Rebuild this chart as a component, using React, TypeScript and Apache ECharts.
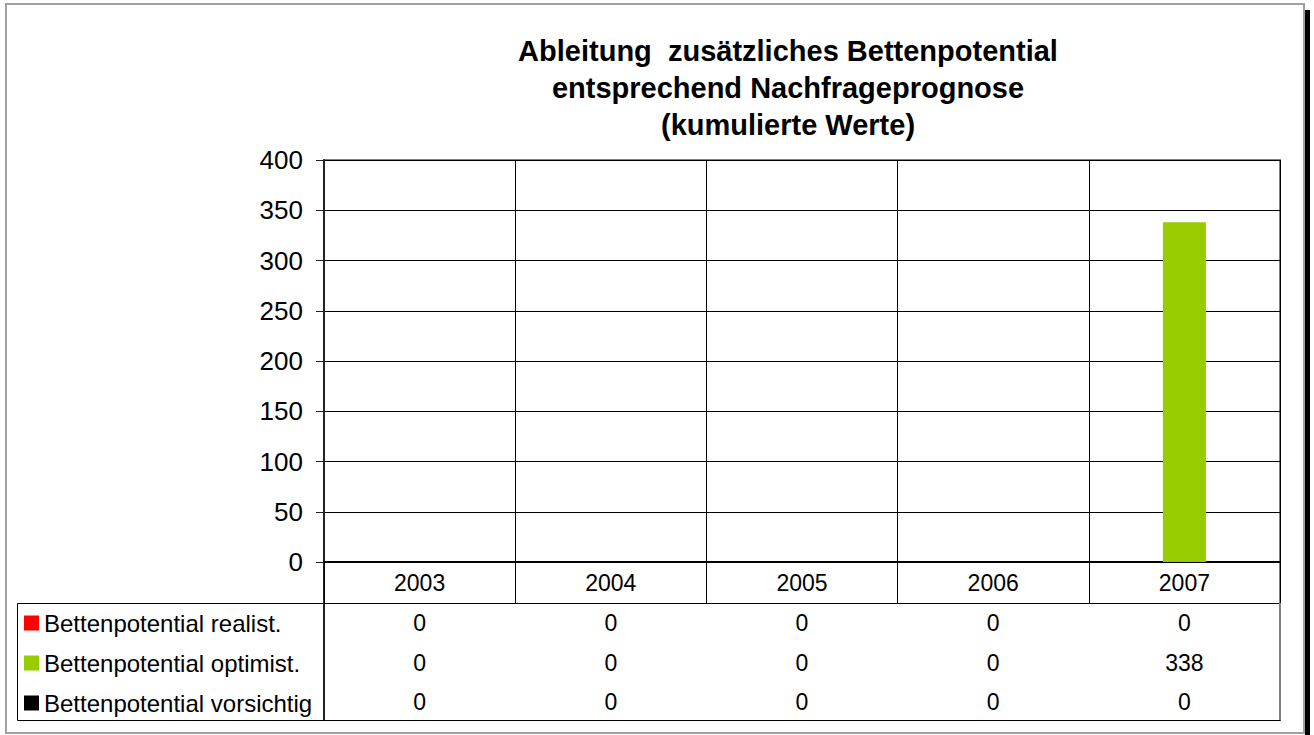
import React, { useEffect, useRef } from "react";
import * as echarts from "echarts";

const categories = ["2003", "2004", "2005", "2006", "2007"];
const seriesNames = [
  "Bettenpotential realist.",
  "Bettenpotential optimist.",
  "Bettenpotential vorsichtig",
];
const realistValues = [0, 0, 0, 0, 0];
const optimistValues = [0, 0, 0, 0, 338];
const vorsichtigValues = [0, 0, 0, 0, 0];
const seriesColors = ["#ff0000", "#99cc00", "#000000"];
const titleLines = [
  "Ableitung  zusätzliches Bettenpotential",
  "entsprechend Nachfrageprognose",
  "(kumulierte Werte)",
];
const yMin = 0;
const yMax = 400;
const yInterval = 50;

const FONT = "'Liberation Sans', Arial, sans-serif";

export default function App() {
  const ref = useRef<HTMLDivElement>(null);

  useEffect(() => {
    if (!ref.current) return;
    const chart = echarts.init(ref.current, null, { renderer: "svg" });
    const allValues = [realistValues, optimistValues, vorsichtigValues];

    const gridLeft = 324;
    const gridTop = 160;
    const gridWidth = 956;
    const gridHeight = 402;

    chart.setOption({
      animation: false,
      backgroundColor: "#ffffff",
      textStyle: { fontFamily: FONT },
      title: {
        text: titleLines.join("\n"),
        left: 788,
        top: 32,
        padding: 0,
        textAlign: "center",
        textStyle: {
          fontFamily: FONT,
          fontSize: 29,
          fontWeight: "bold",
          lineHeight: 37,
          color: "#000",
        },
      },
      legend: {
        orient: "vertical",
        left: 24,
        top: 611,
        padding: 0,
        itemWidth: 15,
        itemHeight: 15,
        itemGap: 16,
        icon: "rect",
        selectedMode: false,
        data: seriesNames,
        textStyle: { fontFamily: FONT, fontSize: 24, color: "#000" },
      },
      grid: {
        left: gridLeft,
        top: gridTop,
        width: gridWidth,
        height: gridHeight,
        show: true,
        borderColor: "#808080",
        borderWidth: 2,
        backgroundColor: "transparent",
      },
      xAxis: {
        type: "category",
        data: categories,
        boundaryGap: true,
        axisLine: { show: true, lineStyle: { color: "#000", width: 2 } },
        axisTick: {
          show: true,
          interval: 0,
          length: 41,
          alignWithLabel: false,
          lineStyle: { color: "#000", width: 1 },
        },
        axisLabel: {
          interval: 0,
          margin: 9,
          fontSize: 23,
          color: "#000",
          fontFamily: FONT,
        },
        splitLine: { show: true, interval: 0, lineStyle: { color: "#000", width: 1 } },
      },
      yAxis: {
        type: "value",
        min: yMin,
        max: yMax,
        interval: yInterval,
        axisLine: { show: true, lineStyle: { color: "#222", width: 2 } },
        axisTick: { show: true, length: 8, lineStyle: { color: "#222", width: 1 } },
        axisLabel: { margin: 21, fontSize: 26, color: "#000", fontFamily: FONT },
        splitLine: { show: true, lineStyle: { color: "#000", width: 1 } },
      },
      series: seriesNames.map((name, i) => ({
        name,
        type: "bar",
        data: allValues[i],
        barWidth: 43,
        barGap: "0%",
        itemStyle: { color: seriesColors[i] },
      })),
    });

    const xs = categories.map((c) => chart.convertToPixel({ xAxisIndex: 0 }, c) as number);
    const rowYs = [623, 663, 702];
    const tableTop = 603;
    const tableBottom = 720;
    const tableLeft = 17;
    const gridRight = gridLeft + gridWidth;
    const gridBottom = gridTop + gridHeight;

    const graphics: any[] = [
      {
        type: "rect",
        shape: { x: 6, y: 4, width: 1298, height: 729 },
        style: { fill: "none", stroke: "#a0a0a0", lineWidth: 2 },
        silent: true,
        z: 0,
      },
      {
        type: "rect",
        shape: { x: 1305, y: 10, width: 5, height: 725 },
        style: { fill: "#000" },
        silent: true,
      },
      {
        type: "rect",
        shape: { x: tableLeft + 0.5, y: tableTop + 0.5, width: gridRight - tableLeft, height: tableBottom - tableTop },
        style: { fill: "none", stroke: "#000", lineWidth: 1 },
        silent: true,
      },
      {
        type: "line",
        shape: { x1: gridLeft, y1: gridBottom, x2: gridLeft, y2: tableBottom },
        style: { stroke: "#222", lineWidth: 2 },
        silent: true,
      },
      {
        type: "line",
        shape: { x1: gridRight, y1: gridBottom, x2: gridRight, y2: tableBottom },
        style: { stroke: "#808080", lineWidth: 2 },
        silent: true,
      },
    ];

    allValues.forEach((vals, r) => {
      vals.forEach((v, c) => {
        graphics.push({
          type: "text",
          x: xs[c],
          y: rowYs[r],
          silent: true,
          style: {
            text: String(v),
            fontFamily: FONT,
            fontSize: 23,
            fill: "#000",
            textAlign: "center",
            textVerticalAlign: "middle",
          },
        });
      });
    });

    chart.setOption({ graphic: graphics });

    return () => chart.dispose();
  }, []);

  return (
    <div
      ref={ref}
      style={{ position: "fixed", left: 0, top: 0, width: 1314, height: 735 }}
    />
  );
}
